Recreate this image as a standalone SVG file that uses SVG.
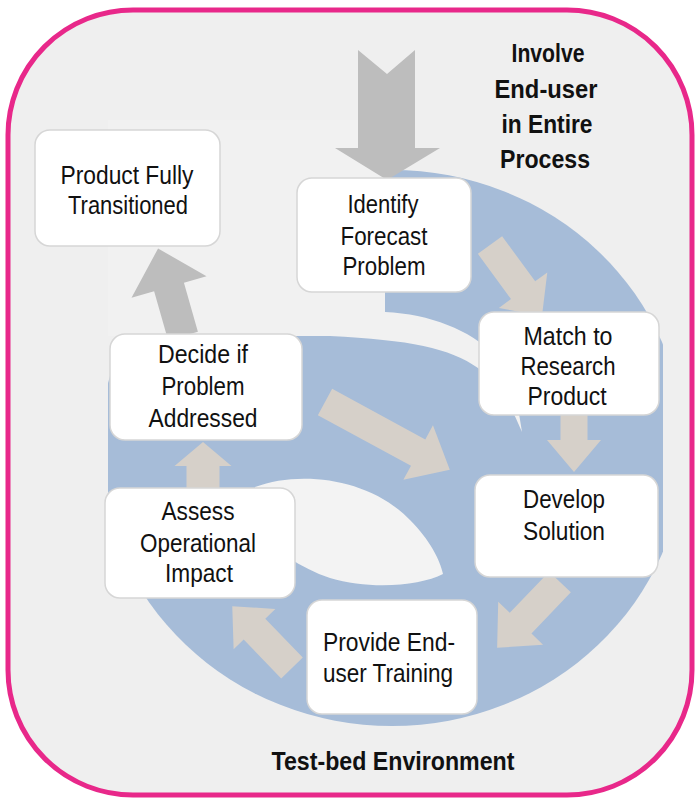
<svg xmlns="http://www.w3.org/2000/svg" width="697" height="799" viewBox="0 0 697 799">
<defs>
<style>
.box{fill:#ffffff;stroke:#d6d6d6;stroke-width:1.5}
.lbl{font-family:"Liberation Sans",Arial,sans-serif;font-size:26px;fill:#111;text-anchor:middle}
.ttl{font-family:"Liberation Sans",Arial,sans-serif;font-size:26px;font-weight:bold;fill:#111;text-anchor:middle}
.arr{fill:#d6d0c9}
.arrg{fill:#bdbdbd}
</style>
<clipPath id="logoclip"><rect x="108" y="100" width="555" height="660"/></clipPath>
</defs>
<rect x="0" y="0" width="697" height="799" fill="#ffffff"/>
<rect x="8" y="10" width="684" height="785" rx="125" ry="125" fill="#efefef" stroke="#e8288a" stroke-width="5"/>
<g id="logo" clip-path="url(#logoclip)">
<ellipse cx="392" cy="448" rx="292" ry="278" fill="#a6bcd8"/>
<path d="M100,120 L385,120 L385,312 C430,314 470,330 495,355 Q515,380 522,432 Q505,390 478,368 C450,348 410,340 330,336 L100,336 Z" fill="#f1f1f1"/>
<path d="M255,487 C300,470 370,478 410,520 C430,540 440,560 443,574 C420,586 370,590 330,578 C300,568 275,550 255,530 Z" fill="#f3f3f3"/>
</g>
<g id="connectors">
<polygon class="arrg" points="358,50 387,74 415,50 415,148 440,148 387,180 335,148 358,148"/>
<polygon class="arr" transform="translate(490,245) rotate(53.8)" points="0,-15 56,-15 56,-30 88,0 56,30 56,15 0,15"/>
<polygon class="arr" transform="translate(574,415) rotate(90)" points="0,-13.5 25,-13.5 25,-27 57,0 25,27 25,13.5 0,13.5"/>
<polygon class="arr" transform="translate(560,582) rotate(133.7)" points="0,-15 57,-15 57,-31 91,0 57,31 57,15 0,15"/>
<polygon class="arr" transform="translate(292,668) rotate(-134)" points="0,-15 54,-15 54,-29 86,0 54,29 54,15 0,15"/>
<polygon class="arr" transform="translate(203,488) rotate(-90)" points="0,-16.5 22,-16.5 22,-28.5 46,0 22,28.5 22,16.5 0,16.5"/>
<polygon class="arr" transform="translate(325,402) rotate(28.5)" points="0,-15 106,-15 106,-31 142,0 106,31 106,15 0,15"/>
<polygon class="arrg" transform="translate(183,336) rotate(-105.9)" points="0,-15.5 51,-15.5 51,-39 91,0 51,39 51,15.5 0,15.5"/>
</g>
<g id="product-fully-transitioned">
<rect class="box" x="35" y="130" width="185" height="116" rx="15"/>
<text class="lbl" x="127" y="184" textLength="133" lengthAdjust="spacingAndGlyphs">Product Fully</text>
<text class="lbl" x="128" y="214" textLength="120" lengthAdjust="spacingAndGlyphs">Transitioned</text>
</g>
<g id="identify-forecast-problem">
<rect class="box" x="297" y="178" width="174" height="114" rx="15"/>
<text class="lbl" x="383" y="213" textLength="71" lengthAdjust="spacingAndGlyphs">Identify</text>
<text class="lbl" x="384" y="245" textLength="87" lengthAdjust="spacingAndGlyphs">Forecast</text>
<text class="lbl" x="384" y="275" textLength="83" lengthAdjust="spacingAndGlyphs">Problem</text>
</g>
<g id="match-to-research-product">
<rect class="box" x="479" y="312" width="180" height="103" rx="15"/>
<text class="lbl" x="568" y="345" textLength="89" lengthAdjust="spacingAndGlyphs">Match to</text>
<text class="lbl" x="568" y="375" textLength="95" lengthAdjust="spacingAndGlyphs">Research</text>
<text class="lbl" x="567" y="405" textLength="79" lengthAdjust="spacingAndGlyphs">Product</text>
</g>
<g id="develop-solution">
<rect class="box" x="475" y="475" width="183" height="102" rx="15"/>
<text class="lbl" x="564" y="508" textLength="82" lengthAdjust="spacingAndGlyphs">Develop</text>
<text class="lbl" x="564" y="540" textLength="82" lengthAdjust="spacingAndGlyphs">Solution</text>
</g>
<g id="provide-end-user-training">
<rect class="box" x="307" y="600" width="170" height="114" rx="15"/>
<text class="lbl" x="389" y="651" textLength="132" lengthAdjust="spacingAndGlyphs">Provide End-</text>
<text class="lbl" x="388" y="682" textLength="130" lengthAdjust="spacingAndGlyphs">user Training</text>
</g>
<g id="assess-operational-impact">
<rect class="box" x="105" y="488" width="190" height="110" rx="15"/>
<text class="lbl" x="198" y="520" textLength="73" lengthAdjust="spacingAndGlyphs">Assess</text>
<text class="lbl" x="198" y="552" textLength="116" lengthAdjust="spacingAndGlyphs">Operational</text>
<text class="lbl" x="199" y="582" textLength="68" lengthAdjust="spacingAndGlyphs">Impact</text>
</g>
<g id="decide-if-problem-addressed">
<rect class="box" x="110" y="334" width="192" height="106" rx="15"/>
<text class="lbl" x="203" y="363" textLength="90" lengthAdjust="spacingAndGlyphs">Decide if</text>
<text class="lbl" x="203" y="395" textLength="83" lengthAdjust="spacingAndGlyphs">Problem</text>
<text class="lbl" x="203" y="427" textLength="109" lengthAdjust="spacingAndGlyphs">Addressed</text>
</g>
<g id="involve-end-user">
<text class="ttl" x="548" y="62" textLength="73" lengthAdjust="spacingAndGlyphs">Involve</text>
<text class="ttl" x="546" y="98" textLength="103" lengthAdjust="spacingAndGlyphs">End-user</text>
<text class="ttl" x="547" y="133" textLength="91" lengthAdjust="spacingAndGlyphs">in Entire</text>
<text class="ttl" x="545" y="168" textLength="90" lengthAdjust="spacingAndGlyphs">Process</text>
</g>
<g id="test-bed-environment">
<text class="ttl" x="393" y="770" textLength="243" lengthAdjust="spacingAndGlyphs">Test-bed Environment</text>
</g>
</svg>
